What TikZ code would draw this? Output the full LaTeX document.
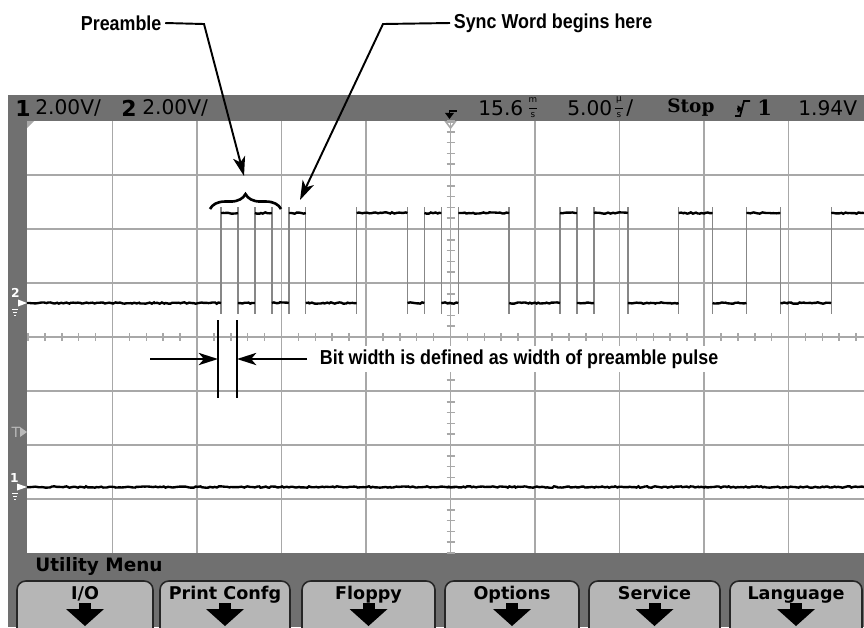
\documentclass[tikz,border=0pt]{standalone}
\usepackage{fontspec}
\usetikzlibrary{arrows.meta,decorations.pathreplacing,decorations.pathmorphing}
\newfontfamily\scopefont{DejaVu Sans}
\newfontfamily\scopeserif{DejaVu Serif}
\newfontfamily\notefont[FakeStretch=0.885]{Liberation Sans}
\definecolor{scrgrey}{RGB}{112,112,112}
\definecolor{gridgrey}{RGB}{168,168,168}
\definecolor{edgegrey}{RGB}{135,135,135}
\definecolor{keygrey}{RGB}{182,182,182}
\definecolor{markgrey}{RGB}{185,185,185}
\tikzset{
  gridline/.style={gridgrey, line width=0.9pt},
  bitedge/.style={edgegrey, line width=0.8pt},
  sigtrace/.style={black, line width=1.35pt, decorate,
    decoration={random steps, segment length=1.2pt, amplitude=0.4pt}},
  annot/.style={font=\notefont\bfseries\fontsize{11.5}{13}\selectfont, inner sep=2pt},
  pointer/.style={line width=1.1pt, -{Stealth[length=11pt, width=7pt, inset=3pt]}},
  stattext/.style={font=\scopefont\fontsize{11.5}{12}\selectfont, anchor=west, inner sep=0pt},
  statbold/.style={stattext, font=\scopefont\bfseries\fontsize{12.5}{13}\selectfont},
  unitlbl/.style={font=\scopefont\fontsize{5}{5}\selectfont, inner sep=0pt},
  chmark/.style={font=\scopefont\bfseries\fontsize{7}{7}\selectfont, inner sep=0pt},
  softkey/.style={draw=black!85, fill=keygrey, line width=0.9pt, rounded corners=5pt},
  keylabel/.style={font=\scopefont\bfseries\fontsize{10}{11}\selectfont, inner sep=0pt, anchor=base},
}
\begin{document}
\begin{tikzpicture}[x=0.02cm, y=-0.02cm]
  \useasboundingbox (0,0) rectangle (864,627);
  \clip (0,0) rectangle (864,627);
  \pgfmathsetseed{11}
  % screen and graticule
  \fill[scrgrey] (8,95) rectangle (864,627);
  \fill[white] (27,121) rectangle (864,553);
  \fill[gridgrey] (27,121) -- (34,121) -- (27,128) -- cycle;
  \foreach \k in {1,...,9}
    \draw[gridline] ({28+84.5*\k},121) -- ({28+84.5*\k},553);
  \foreach \k in {1,...,7}
    \draw[gridline] (27,{121+54*\k}) -- (864,{121+54*\k});
  \foreach \k in {-25,...,24}
    \draw[gridline] ({450.5+16.9*\k},333) -- ({450.5+16.9*\k},341);
  \foreach \k in {-20,...,20}
    \draw[gridline] (446.5,{337+10.8*\k}) -- (454.5,{337+10.8*\k});
  \draw[gridline] (446,122) -- (455,122) -- (450.5,128) -- cycle;

  % channel 2 signal
  \def\xo{221}
  \def\bitw{16.95}
  \foreach \k in {0,1,2,3,4,5,8,11,12,13,14,17,20,21,22,24,27,29,31,33,36}
    \draw[bitedge] ({\xo+\k*\bitw},207) -- ({\xo+\k*\bitw},314);
  \draw[sigtrace] (27,303) -- (\xo,303);
  \foreach \a/\b in {1/2,3/4,5/8,11/12,13/14,17/20,21/22,24/27,29/31,33/36}
    \draw[sigtrace] ({\xo+\a*\bitw},303) -- ({\xo+\b*\bitw},303);
  \foreach \a/\b in {0/1,2/3,4/5,8/11,12/13,14/17,20/21,22/24,27/29,31/33}
    \draw[sigtrace] ({\xo+\a*\bitw},213) -- ({\xo+\b*\bitw},213);
  \draw[sigtrace] ({\xo+36*\bitw},213) -- (864,213);
  % channel 1 signal
  \draw[sigtrace] (27,487) -- (864,487);

  % channel and trigger markers
  \node[chmark, white] (ch2num) at (15.5,293) {2};
  \fill[white] (18,299.5) -- (27,303) -- (18,306.5) -- cycle;
  \draw[white, line width=0.5pt] (12,309) -- (18,309) (13,312) -- (17,312) (14,315) -- (16,315);
  \node[chmark, markgrey, font=\scopefont\fontsize{8}{8}\selectfont] (trig) at (16,432) {T};
  \fill[markgrey] (20,427) -- (27,432) -- (20,437) -- cycle;
  \node[chmark, white] (ch1num) at (14.5,478) {1};
  \fill[white] (17,483.5) -- (27,487) -- (17,490.5) -- cycle;
  \draw[white, line width=0.5pt] (12,493) -- (18,493) (13,496) -- (17,496) (14,499) -- (16,499);

  % status line
  \node[statbold] (ch1lbl) at (15,108) {1};
  \node[stattext] (ch1scale) at (35,108) {2.00V/};
  \node[statbold] (ch2lbl) at (121,108) {2};
  \node[stattext] (ch2scale) at (142,108) {2.00V/};
  \draw[line width=1pt] (449,111) -- (457,111);
  \draw[line width=1pt, -{Triangle[length=3.5pt, width=5pt]}] (449.5,111) -- (449.5,119);
  \node[stattext] (delay) at (478,108) {15.6};
  \node[unitlbl] (delaym) at (533,100.5) {m};
  \draw[line width=0.5pt] (529,108) -- (537,108);
  \node[unitlbl] (delays) at (533,115.5) {s};
  \node[stattext] (timebase) at (567,108) {5.00};
  \node[unitlbl] (tbmu) at (619,100.5) {µ};
  \draw[line width=0.5pt] (615,108) -- (623,108);
  \node[unitlbl] (tbs) at (619,115.5) {s};
  \node[stattext] (tbslash) at (626,108) {/};
  \node[stattext, font=\scopeserif\bfseries\fontsize{10.5}{12}\selectfont] (runstate) at (667,108) {Stop};
  \draw[line width=1pt] (735,116) -- (740,116) -- (744,101) -- (750,101);
  \draw[line width=0.8pt, -{Triangle[length=3pt, width=4pt]}] (737,109) -- (743,109);
  \node[stattext, font=\scopeserif\bfseries\fontsize{12}{12}\selectfont] (trigsrc) at (757,108) {1};
  \node[stattext] (triglevel) at (798,108) {1.94V};

  % softkey menu
  \node[stattext, font=\scopefont\bfseries\fontsize{10.5}{12}\selectfont] (menu) at (35,566) {Utility Menu};
  \foreach \xl/\xr/\lbl [count=\i] in {17/153/I{/}O, 160/290/Print Confg, 302/435/Floppy,
      445/579/Options, 589/720/Service, 730/862/Language} {
    \draw[softkey] (\xl,581) rectangle (\xr,645);
    \node[keylabel] (key\i) at ({(\xl+\xr)/2},599) {\lbl};
    \fill ({(\xl+\xr)/2-6},603) rectangle ({(\xl+\xr)/2+6},609);
    \fill ({(\xl+\xr)/2-19},609) -- ({(\xl+\xr)/2+19},609) -- ({(\xl+\xr)/2},626) -- cycle;
  }

  % annotations
  \node[annot, anchor=west] (preamble) at (77,23) {Preamble};
  \coordinate (preknee) at (204,24);
  \coordinate (pretip) at (244,176);
  \draw[pointer] (preamble.east) -- (preknee) -- (pretip);
  \draw[line width=1.5pt, decorate, decoration={brace, amplitude=8.5pt}] (210,209) -- (281,209);

  \node[annot, anchor=west] (syncword) at (450,23) {Sync Word begins here};
  \coordinate (syncknee) at (383,24);
  \coordinate (synctip) at (300,200);
  \draw[pointer] (syncword.west) -- (syncknee) -- (synctip);

  \coordinate (bitltop) at (218,320);
  \coordinate (bitlbot) at (218,398);
  \coordinate (bitrtop) at (237,320);
  \coordinate (bitrbot) at (237,398);
  \draw[line width=1.1pt] (bitltop) -- (bitlbot);
  \draw[line width=1.1pt] (bitrtop) -- (bitrbot);
  \coordinate (bitlin) at (150,359);
  \coordinate (bitrin) at (307,359);
  \node[annot, anchor=west, fill=white] (bitnote) at (316,359) {Bit width is defined as width of preamble pulse};
  \draw[pointer] (bitlin) -- (bitlin -| bitltop);
  \draw[pointer] (bitrin) -- (bitrin -| bitrtop);
\end{tikzpicture}
\end{document}
